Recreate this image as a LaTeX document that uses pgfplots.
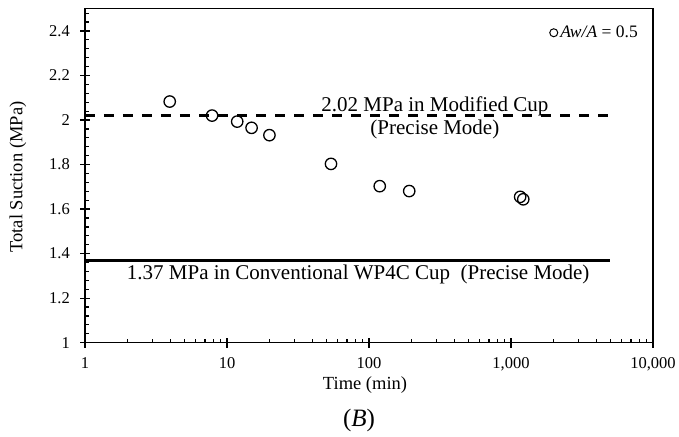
\documentclass[border=0pt]{standalone}
\usepackage{fontspec}
\setmainfont{Liberation Serif}
\usepackage{pgfplots}
\pgfplotsset{compat=1.18}
\begin{document}
\begin{tikzpicture}
\useasboundingbox (-85bp,-94.3bp) rectangle (594bp,342.7bp);
\begin{axis}[
  scale only axis,
  width=568bp, height=334bp,
  xmode=log,
  xmin=1, xmax=10000,
  ymin=1, ymax=2.5,
  axis line style={line width=1.2bp},
  every tick/.style={black, line width=1.2bp},
  xtick={1,10,100,1000,10000},
  xticklabels={1,10,100,{1,000},{10,000}},
  minor xtick={2,3,4,5,6,7,8,9,20,30,40,50,60,70,80,90,200,300,400,500,600,700,800,900,2000,3000,4000,5000,6000,7000,8000,9000},
  ytick={1,1.2,1.4,1.6,1.8,2,2.2,2.4},
  minor ytick={1.04,1.08,1.12,1.16,1.24,1.28,1.32,1.36,1.44,1.48,1.52,1.56,1.64,1.68,1.72,1.76,1.84,1.88,1.92,1.96,2.04,2.08,2.12,2.16,2.24,2.28,2.32,2.36,2.44,2.48},
  tick align=inside,
  major tick length=5bp,
  minor tick length=4bp,
  xtick pos=bottom, ytick pos=left,
  extra x ticks={1,10,100,1000,10000},
  extra x tick labels={},
  extra y ticks={1,1.2,1.4,1.6,1.8,2,2.2,2.4},
  extra y tick labels={},
  extra tick style={tick align=outside, major tick length=5bp},
  /pgf/number format/assume math mode=true,
  ticklabel style={font=\fontsize{16.5bp}{19bp}\selectfont},
  yticklabel style={inner sep=0pt, xshift=-15bp},
  xticklabel style={inner sep=0pt, yshift=-15bp},
  xlabel={Time (min)},
  ylabel={Total Suction (MPa)},
  label style={font=\fontsize{18.5bp}{22bp}\selectfont},
  xlabel style={at={(axis description cs:0.493,-0.127)}, anchor=center},
  ylabel style={at={(axis description cs:-0.118,0.496)}, anchor=center},
  legend style={draw=none, fill=none, at={(rel axis cs:0.977,0.928)}, anchor=east,
    font=\fontsize{17.5bp}{20bp}\selectfont, inner sep=0pt},
  legend image code/.code={\draw[line width=1bp] (4bp,0bp) circle (4bp);},
  legend cell align=left,
  clip=false,
]
\addplot[black, line width=2.8bp, dash pattern=on 10bp off 9bp, forget plot] coordinates {(1,2.02) (5000,2.02)};
\addplot[black, line width=2.8bp, forget plot] coordinates {(1,1.37) (5000,1.37)};
\addplot[only marks, mark=o, mark size=5.7bp, mark options={line width=1.3bp, black}] coordinates {
(3.95,2.083)
(7.85,2.02)
(11.8,1.993)
(14.9,1.965)
(19.9,1.932)
(54,1.803)
(119,1.703)
(192,1.681)
(1160,1.655)
(1220,1.644)
};
\addlegendentry{\textit{Aw/A} = 0.5}
\node[font=\fontsize{21bp}{24bp}\selectfont, anchor=center] at (rel axis cs:0.616,0.709) {2.02 MPa in Modified Cup};
\node[font=\fontsize{21bp}{24bp}\selectfont, anchor=center] at (rel axis cs:0.616,0.637) {(Precise Mode)};
\node[font=\fontsize{21bp}{24bp}\selectfont, anchor=center] at (rel axis cs:0.481,0.203) {1.37 MPa in Conventional WP4C Cup\ \ (Precise Mode)};
\end{axis}
\node[font=\fontsize{25bp}{28bp}\selectfont, anchor=center] at (274bp,-77.3bp) {(\textit{B})};
\end{tikzpicture}
\end{document}
